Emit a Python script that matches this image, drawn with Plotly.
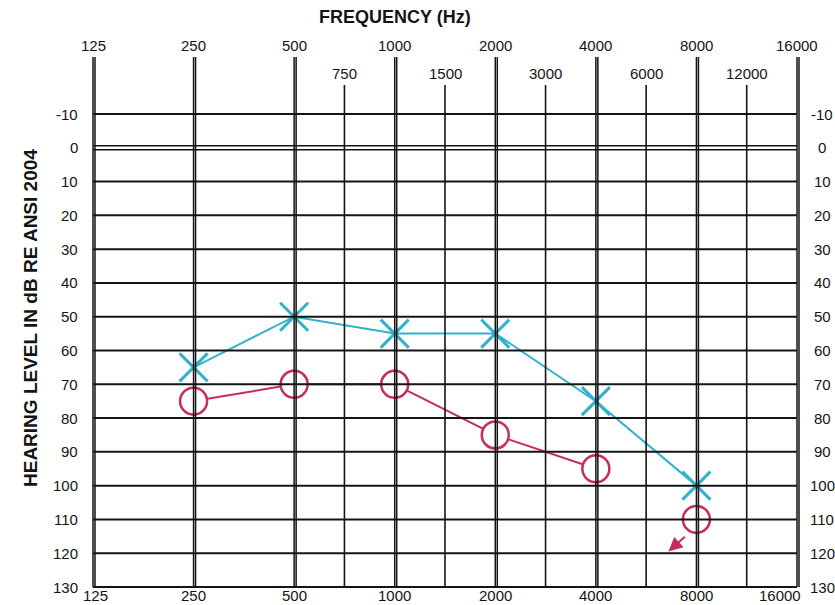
import numpy as np
import plotly.graph_objects as go

# ---------------- data ----------------
octave_freqs = [125, 250, 500, 1000, 2000, 4000, 8000, 16000]
octave_labels = ["125", "250", "500", "1000", "2000", "4000", "8000", "16000"]
inter_lower = [500, 1000, 2000, 4000, 8000]          # inter-octave line sits between lower and 2*lower
inter_labels = ["750", "1500", "3000", "6000", "12000"]
db_levels = list(range(-10, 131, 10))
db_labels = [str(v) for v in db_levels]

test_freqs = [250, 500, 1000, 2000, 4000, 8000]
left_ear_db = [65, 50, 55, 55, 75, 100]      # blue X
right_ear_db = [75, 70, 70, 85, 95, 110]     # red O
right_no_response = [False, False, False, False, False, True]

# ---------------- geometry ----------------
W, H = 835, 605
ML, MR, MT, MB = 90, 35, 57, 15
PW, PH = W - ML - MR, H - MT - MB
px_per_oct = 100.57
pad = 3
k = np.log10(2) / px_per_oct
x_range = [np.log10(125) - pad * k, np.log10(16000) + pad * k]
px_per_db = 3.3786
y_top = -10 - 57 / px_per_db
y_bot = 130 + pad / px_per_db

BLUE = "rgb(48,178,204)"
RED = "rgb(200,45,88)"
INK = "#141414"
FONT = "Liberation Sans"

fig = go.Figure()

# ---------------- grid (audiogram form) ----------------
shapes = []
for d in db_levels:
    if d == 0:
        for off in (-2, 2):
            shapes.append(dict(type="line", xref="x", yref="y", x0=125, x1=16000,
                               ysizemode="pixel", yanchor=d, y0=off, y1=off,
                               line=dict(color=INK, width=1.5)))
    else:
        shapes.append(dict(type="line", xref="x", yref="y", x0=125, x1=16000,
                           y0=d, y1=d, line=dict(color=INK, width=2)))
for f in octave_freqs:
    for off in (-2, 2):
        shapes.append(dict(type="line", xref="x", yref="y", xsizemode="pixel", xanchor=f,
                           x0=off, x1=off, y0=130, y1=y_top,
                           line=dict(color=INK, width=1.5)))
inter_top = -10 - 29 / px_per_db
inter_pos = [lo * np.sqrt(2) for lo in inter_lower]
for f in inter_pos:
    shapes.append(dict(type="line", xref="x", yref="y", x0=f, x1=f, y0=130, y1=inter_top,
                       line=dict(color=INK, width=1.6)))

# ---------------- data traces ----------------
fig.add_trace(go.Scatter(x=test_freqs, y=left_ear_db, mode="lines+markers",
                         line=dict(color=BLUE, width=2),
                         marker=dict(symbol="x-thin", size=28,
                                     line=dict(color=BLUE, width=3)),
                         showlegend=False, hoverinfo="x+y"))

# red connecting segments trimmed at the circle edges
def to_px(f, d):
    xp = (np.log10(f) - x_range[0]) / (x_range[1] - x_range[0]) * PW
    yp = (d - y_top) / (y_bot - y_top) * PH
    return xp, yp

def from_px(xp, yp):
    lf = x_range[0] + xp / PW * (x_range[1] - x_range[0])
    d = y_top + yp / PH * (y_bot - y_top)
    return 10 ** lf, d

r_trim = 14
seg_x, seg_y = [], []
for i in range(len(test_freqs) - 1):
    if right_no_response[i + 1]:
        continue
    ax_, ay_ = to_px(test_freqs[i], right_ear_db[i])
    bx_, by_ = to_px(test_freqs[i + 1], right_ear_db[i + 1])
    L = np.hypot(bx_ - ax_, by_ - ay_)
    ux, uy = (bx_ - ax_) / L, (by_ - ay_) / L
    p0 = from_px(ax_ + ux * r_trim, ay_ + uy * r_trim)
    p1 = from_px(bx_ - ux * r_trim, by_ - uy * r_trim)
    seg_x += [p0[0], p1[0], None]
    seg_y += [p0[1], p1[1], None]
fig.add_trace(go.Scatter(x=seg_x, y=seg_y, mode="lines", line=dict(color=RED, width=2),
                         showlegend=False, hoverinfo="skip"))
fig.add_trace(go.Scatter(x=test_freqs, y=right_ear_db, mode="markers",
                         marker=dict(symbol="circle-open", size=27, color=RED,
                                     line=dict(width=2.5)),
                         showlegend=False, hoverinfo="x+y"))

# ---------------- annotations ----------------
ann = []
for f, nr, d in zip(test_freqs, right_no_response, right_ear_db):
    if nr:
        ann.append(dict(x=np.log10(f), y=d, xref="x", yref="y", text="", showarrow=True,
                        xshift=-28, yshift=-32, ax=18, ay=-16, arrowhead=2, arrowsize=1.4,
                        arrowwidth=2, arrowcolor=RED))

tick_font = dict(family=FONT, size=15, color=INK)
for d, t in zip(db_levels, db_labels):
    ann.append(dict(x=0, y=d, xref="paper", yref="y", text=t, showarrow=False,
                    xanchor="right", yanchor="middle", xshift=-10, font=tick_font))
    ann.append(dict(x=1, y=d, xref="paper", yref="y", text=t, showarrow=False,
                    xanchor="center", yanchor="middle", xshift=22, font=tick_font))

top_font = dict(family=FONT, size=15, color=INK)
for f, t in zip(octave_freqs, octave_labels):
    ann.append(dict(x=np.log10(f), y=1, xref="x", yref="paper", text=t, showarrow=False,
                    xanchor="center", yanchor="middle", yshift=12, font=top_font))
for f, t in zip(inter_pos, inter_labels):
    ann.append(dict(x=np.log10(f), y=1, xref="x", yref="paper", text=t, showarrow=False,
                    xanchor="center", yanchor="middle", yshift=-16, font=top_font))

bot_font = dict(family=FONT, size=15, color=INK)
for f, t in zip(octave_freqs, octave_labels):
    xs = 2 if f == 125 else (-17 if f == 16000 else 0)
    ann.append(dict(x=np.log10(f), y=0, xref="x", yref="paper", text=t, showarrow=False,
                    xanchor="center", yanchor="middle", yshift=-5, xshift=xs, font=bot_font))

ann.append(dict(x=3, y=1, xref="x", yref="paper", text="<b>FREQUENCY (Hz)</b>",
                showarrow=False, xanchor="center", yanchor="middle", yshift=40,
                font=dict(family=FONT, size=18, color=INK)))
ann.append(dict(x=0, y=(H - MB - 318) / PH, xref="paper", yref="paper",
                text="<b>HEARING LEVEL IN dB RE ANSI 2004</b>", textangle=-90,
                showarrow=False, xanchor="center", yanchor="middle", xshift=-60,
                font=dict(family=FONT, size=19, color=INK)))

fig.update_layout(
    width=W, height=H, autosize=False,
    margin=dict(l=ML, r=MR, t=MT, b=MB, pad=0),
    paper_bgcolor="white", plot_bgcolor="white",
    xaxis=dict(type="log", range=x_range, showgrid=False, zeroline=False,
               showticklabels=False, ticks="", showline=False, fixedrange=True),
    yaxis=dict(range=[y_bot, y_top], showgrid=False, zeroline=False,
               showticklabels=False, ticks="", showline=False, fixedrange=True),
    shapes=shapes, annotations=ann, showlegend=False,
)

fig.write_html("out.html", config={"displayModeBar": False})
